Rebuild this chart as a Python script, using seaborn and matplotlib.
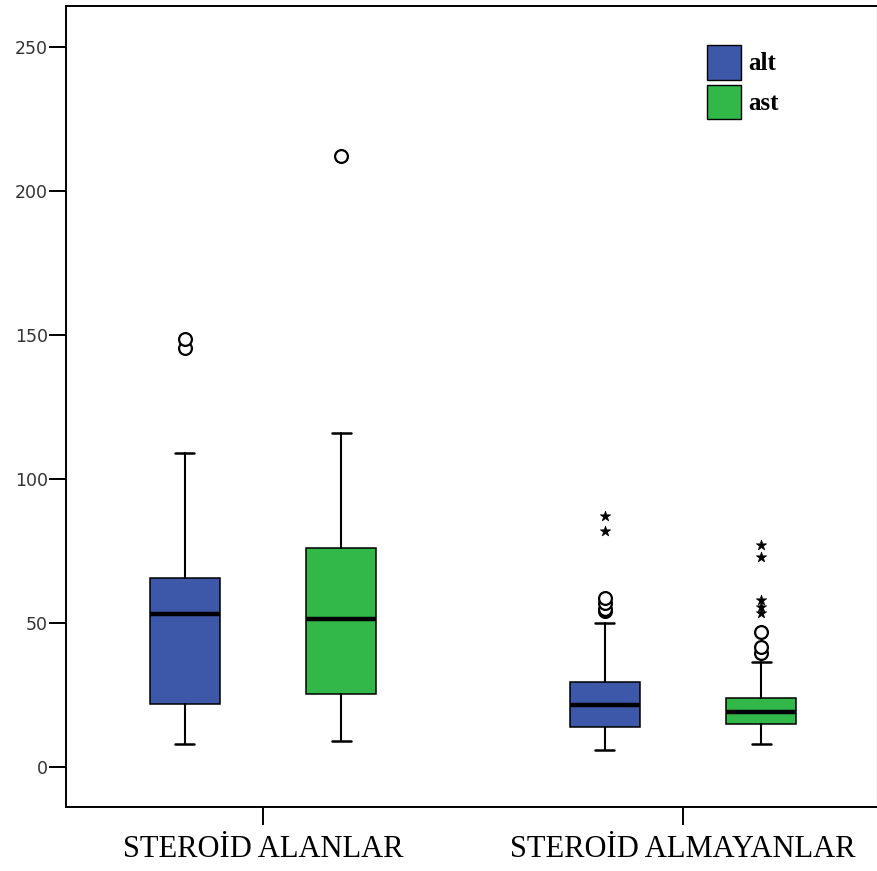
import numpy as np
import pandas as pd
import seaborn as sns
import matplotlib.pyplot as plt
from matplotlib.patches import Patch

# dados (resumo dos boxplots)
grupos = ["STEROİD ALANLAR", "STEROİD ALMAYANLAR"]
series = ["alt", "ast"]
cores = ["#3D57A9", "#31B848"]

minimo = {"alt": [8, 6], "ast": [9, 8]}
q1 = {"alt": [22, 14], "ast": [25.5, 15]}
mediana = {"alt": [53, 21.5], "ast": [51.5, 19]}
q3 = {"alt": [65.5, 29.5], "ast": [76, 24]}
maximo = {"alt": [109, 50], "ast": [116, 36.5]}

# outliers (o) e extremos (*)
outliers_o = {
    "alt": [[145.5, 148.5], [54, 55, 57, 58.5]],
    "ast": [[212], [39.5, 41.5, 47]],
}
extremos = {
    "alt": [[], [82, 87]],
    "ast": [[], [53.5, 55.5, 58, 73, 77]],
}

sns.set_style("white")
fig = plt.figure(figsize=(8.78, 8.71), dpi=100)
ax = fig.add_axes([66 / 878, 64 / 871, 811 / 878, 801 / 871])

desloc = {"alt": -0.186, "ast": 0.186}
stats, posicoes, pontos = [], [], []
for s in series:
    for i, g in enumerate(grupos):
        stats.append(dict(whislo=minimo[s][i], q1=q1[s][i], med=mediana[s][i],
                          q3=q3[s][i], whishi=maximo[s][i], fliers=[]))
        posicoes.append(i + desloc[s])
        for v in outliers_o[s][i]:
            pontos.append((i + desloc[s], v, "o"))
        for v in extremos[s][i]:
            pontos.append((i + desloc[s], v, "*"))

bp = ax.bxp(stats, positions=posicoes, widths=0.167, patch_artist=True,
            showfliers=False,
            boxprops=dict(edgecolor="black", linewidth=1.1),
            medianprops=dict(color="black", linewidth=3.2),
            whiskerprops=dict(color="black", linewidth=1.5),
            capprops=dict(color="black", linewidth=1.8),
            capwidths=0.045)
for k, caixa in enumerate(bp["boxes"]):
    caixa.set_facecolor(cores[0] if k < 2 else cores[1])

df_pts = pd.DataFrame(pontos, columns=["x", "valor", "tipo"])
df_o = df_pts[df_pts["tipo"] == "o"]
df_e = df_pts[df_pts["tipo"] == "*"]
sns.scatterplot(data=df_o, x="x", y="valor", marker="o", color="white",
                edgecolor="black", linewidth=1.6, s=85, legend=False, ax=ax,
                zorder=5)
sns.scatterplot(data=df_e, x="x", y="valor", marker="*", color="black",
                edgecolor="black", linewidth=0.5, s=60, legend=False, ax=ax,
                zorder=5)

ax.set_xlim(-0.469, 1.462)
ax.set_ylim(-13.9, 264.2)
ax.set_xticks([0, 1])
ax.set_xticklabels(grupos, family="Liberation Serif", fontsize=22,
                   color="black")
ax.set_yticks([0, 50, 100, 150, 200, 250])
ax.set_yticklabels(["0", "50", "100", "150", "200", "250"],
                   family="DejaVu Sans", fontsize=12.5, color="#333333")
ax.set_xlabel("")
ax.set_ylabel("")
ax.tick_params(axis="y", direction="out", length=12, width=1.4, pad=1,
               left=True, color="black")
ax.tick_params(axis="x", direction="out", length=13, width=1.4, pad=7,
               bottom=True, color="black")
for lado in ["left", "bottom", "top"]:
    ax.spines[lado].set_color("black")
    ax.spines[lado].set_linewidth(1.4)
ax.spines["right"].set_color("#cccccc")
ax.spines["right"].set_linewidth(1)

handles = [Patch(facecolor=c, edgecolor="black", linewidth=1) for c in cores]
leg = fig.legend(handles, series, loc="upper left",
                 bbox_to_anchor=(707 / 878, (871 - 45) / 871),
                 frameon=False, borderpad=0, borderaxespad=0,
                 handlelength=1.35, handleheight=1.75, labelspacing=0.2,
                 handletextpad=0.3,
                 prop=dict(family="Liberation Serif", weight="bold", size=18))
for t in leg.get_texts():
    t.set_color("black")

fig.savefig("out.png", dpi=100)
